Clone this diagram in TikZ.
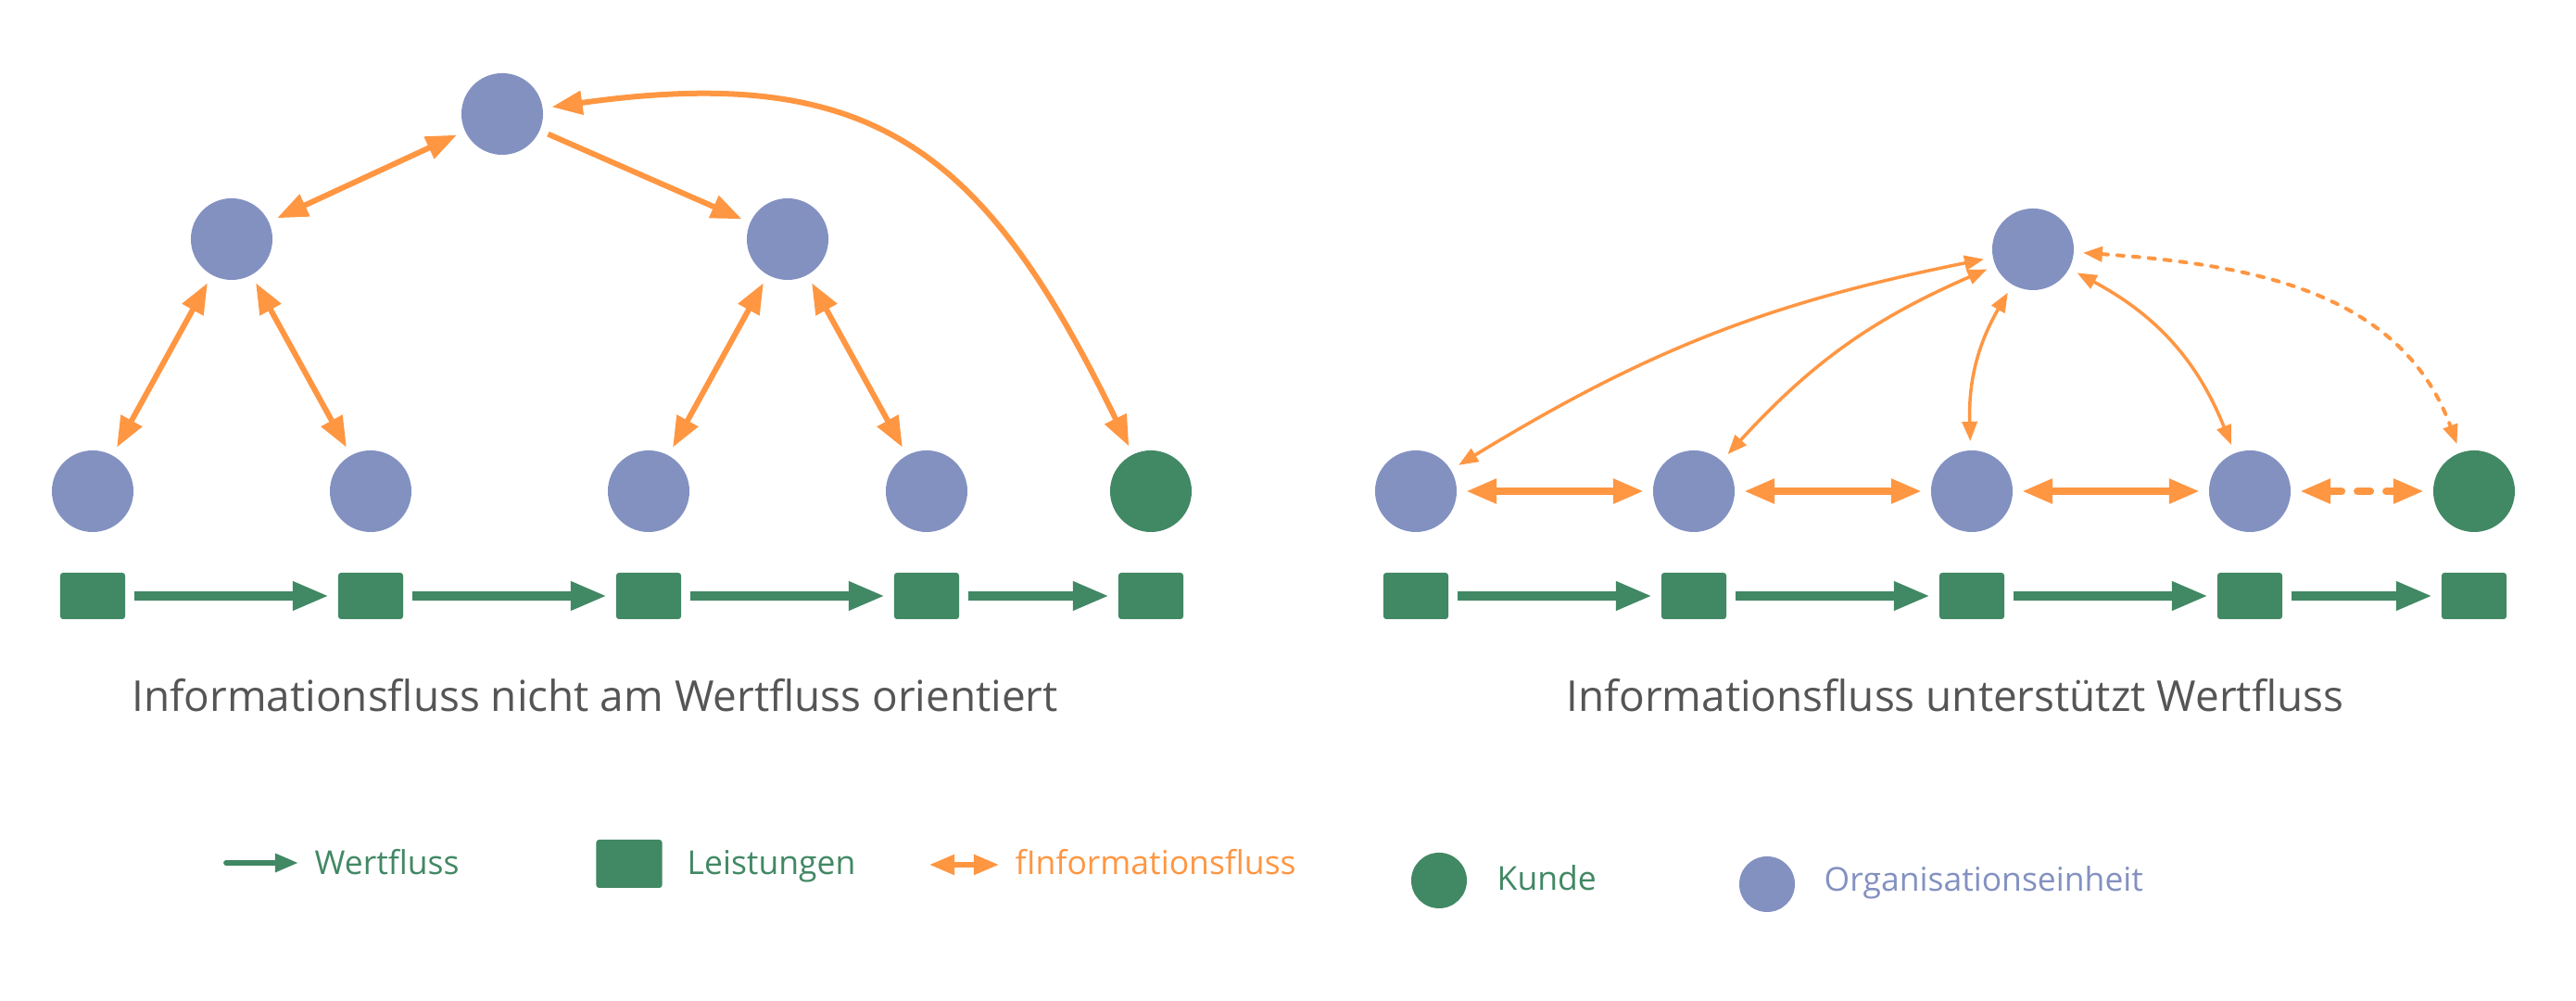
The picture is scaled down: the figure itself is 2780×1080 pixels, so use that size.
\documentclass[tikz,border=0pt]{standalone}
\usepackage{fontspec}
\setmainfont{Open Sans}
\usepackage{tikz}
\usetikzlibrary{arrows.meta}
\definecolor{orgblue}{HTML}{8391C1}
\definecolor{kundegreen}{HTML}{418864}
\definecolor{infoorange}{HTML}{FF9642}
\definecolor{titlegray}{HTML}{555555}

\begin{document}
\begin{tikzpicture}[x=0.01cm, y=0.01cm,
    einheit/.style={circle, fill=orgblue, minimum size=0.88cm, inner sep=0pt, outer sep=0.1cm},
    kunde/.style={einheit, fill=kundegreen},
    leistung/.style={rectangle, fill=kundegreen, rounded corners=0.03cm, minimum width=0.7cm, minimum height=0.5cm, inner sep=0pt, outer sep=0.1cm},
    wert/.style={draw=kundegreen, line width=0.095cm, -{Triangle[length=0.39cm, width=0.29cm]}},
    info/.style={draw=infoorange, line width=0.06cm, {Triangle[length=0.33cm, width=0.25cm]}-{Triangle[length=0.33cm, width=0.25cm]}},
    infoone/.style={info, -{Triangle[length=0.33cm, width=0.25cm]}},
    infothin/.style={draw=infoorange, line width=0.035cm, {Triangle[length=0.21cm, width=0.16cm]}-{Triangle[length=0.21cm, width=0.16cm]}},
    infothick/.style={info, line width=0.08cm},
    titel/.style={anchor=base, inner sep=0pt, text=titlegray, font=\fontsize{13.05}{16}\selectfont},
    legende/.style={anchor=base west, inner sep=0pt, font=\fontsize{10.1}{12}\selectfont}]
    \useasboundingbox (0,0) rectangle (2780,1080);

    % Informationsfluss nicht am Wertfluss orientiert
    \node[einheit] (lt) at (542,957) {};
    \node[einheit] (lm1) at (250,822) {};
    \node[einheit] (lm2) at (850,822) {};
    \foreach \i/\x in {1/100,2/400,3/700,4/1000}
        \node[einheit] (lb\i) at (\x,550) {};
    \node[kunde] (lk) at (1242,550) {};
    \foreach \i/\x in {1/100,2/400,3/700,4/1000,5/1242}
        \node[leistung] (ls\i) at (\x,437) {};
    \foreach \i/\j in {1/2,2/3,3/4,4/5}
        \draw[wert] (ls\i) -- (ls\j);

    \draw[info] (lm1) -- (lt);
    \draw[infoone] (lt) -- (lm2);
    \draw[info] (lb1) -- (lm1);
    \draw[info] (lb2) -- (lm1);
    \draw[info] (lb3) -- (lm2);
    \draw[info] (lb4) -- (lm2);
    \draw[info] (lk) to[out=116, in=8, looseness=1.25] (lt);

    \node[titel] (titelL) at (642,312) {Informationsfluss nicht am Wertfluss orientiert};

    % Informationsfluss unterstuetzt Wertfluss
    \node[einheit] (rt) at (2194,811) {};
    \foreach \i/\x in {1/1528,2/1828,3/2128,4/2428}
        \node[einheit] (rb\i) at (\x,550) {};
    \node[kunde] (rk) at (2670,550) {};
    \foreach \i/\x in {1/1528,2/1828,3/2128,4/2428,5/2670}
        \node[leistung] (rs\i) at (\x,437) {};
    \foreach \i/\j in {1/2,2/3,3/4,4/5}
        \draw[wert] (rs\i) -- (rs\j);

    \foreach \i/\j in {1/2,2/3,3/4}
        \draw[infothick] (rb\i) -- (rb\j);
    \draw[infothick, line cap=round, dash pattern=on 0.14cm off 0.17cm] (rb4) -- (rk);
    \draw[infothin] (rb1) to[bend left=10] (rt);
    \draw[infothin] (rb2) to[bend left=12] (rt);
    \draw[infothin] (rb3) to[bend left=16] (rt);
    \draw[infothin] (rb4) to[bend right=20] (rt);
    \draw[infothin, line width=0.04cm, line cap=round, dash pattern=on 0.07cm off 0.1cm] (rt) to[out=-4, in=110] (rk);

    \node[titel] (titelR) at (2110,312) {Informationsfluss unterstützt Wertfluss};

    % Legende
    \coordinate (wa) at (244,149);
    \coordinate (wb) at (322,149);
    \draw[wert, line width=0.057cm, line cap=round, -{Triangle[length=0.25cm, width=0.19cm]}] (wa) -- (wb);
    \node[legende, text=kundegreen] (lgWert) at (339,136) {Wertfluss};
    \node[leistung, minimum width=0.71cm, minimum height=0.52cm] (lgBox) at (679,148) {};
    \node[legende, text=kundegreen] (lgLeistung) at (741,136) {Leistungen};
    \coordinate (ia) at (1003,147);
    \coordinate (ib) at (1078,147);
    \draw[info, line width=0.053cm, {Triangle[length=0.27cm, width=0.21cm]}-{Triangle[length=0.27cm, width=0.21cm]}] (ia) -- (ib);
    \node[legende, text=infoorange] (lgInfo) at (1095,136) {fInformationsfluss};
    \node[kunde, minimum size=0.6cm] (lgKreisK) at (1553,130) {};
    \node[legende, text=kundegreen] (lgKunde) at (1615,119) {Kunde};
    \node[einheit, minimum size=0.6cm] (lgKreisO) at (1907,126) {};
    \node[legende, text=orgblue] (lgOrg) at (1968,118) {Organisationseinheit};
\end{tikzpicture}
\end{document}
